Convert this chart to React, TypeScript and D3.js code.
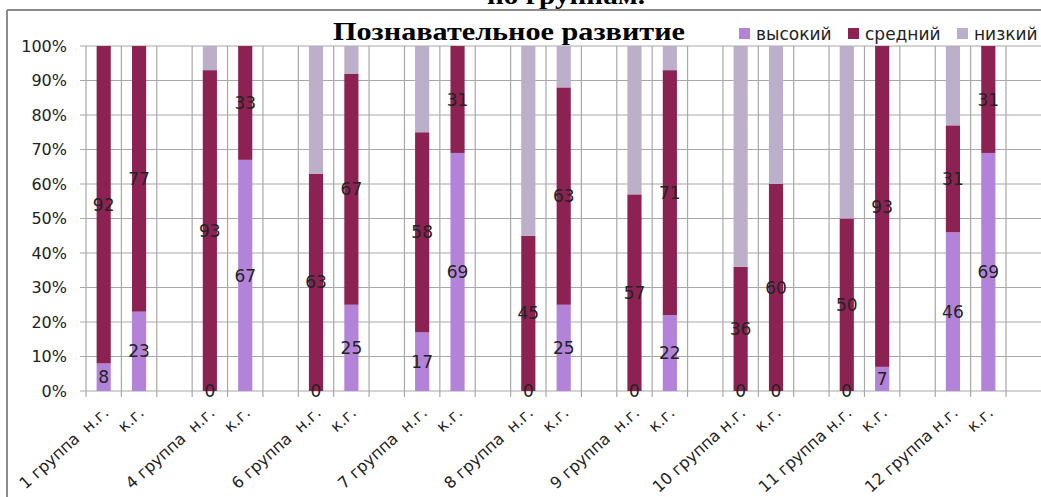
import React from "react";
import * as d3 from "d3";

// categories (blank slots separate the groups)
const categories = [
  "1 группа  н.г.", "к.г.", "",
  "4 группа  н.г.", "к.г.", "",
  "6 группа  н.г.", "к.г.", "",
  "7 группа  н.г.", "к.г.", "",
  "8 группа  н.г.", "к.г.", "",
  "9 группа  н.г.", "к.г.", "",
  "10 группа н.г.", "к.г.", "",
  "11 группа н.г.", "к.г.", "",
  "12 группа н.г.", "к.г.", "",
];

const high = [8, 23, null, 0, 67, null, 0, 25, null, 17, 69, null, 0, 25, null, 0, 22, null, 0, 0, null, 0, 7, null, 46, 69, null];
const mid = [92, 77, null, 93, 33, null, 63, 67, null, 58, 31, null, 45, 63, null, 57, 71, null, 36, 60, null, 50, 93, null, 31, 31, null];
const low = [0, 0, null, 7, 0, null, 37, 8, null, 25, 0, null, 55, 12, null, 43, 7, null, 64, 40, null, 50, 0, null, 23, 0, null];

const seriesNames = ["высокий", "средний", "низкий"];
const colors = ["#b383da", "#8b2252", "#bbafc9"];
const yTicks = [0, 10, 20, 30, 40, 50, 60, 70, 80, 90, 100];

const W = 1041;
const H = 497;
const left = 86;
const right = 1041.4;
const top = 46;
const bottom = 391;
const gridColor = "#a8a8a8";
const font = "'DejaVu Sans', Verdana, sans-serif";

export default function App() {
  const x = d3.scaleBand<number>().domain(categories.map((_, i) => i)).range([left, right]).padding(0);
  const y = d3.scaleLinear().domain([0, 100]).range([bottom, top]);
  const bw = x.bandwidth() * 0.4;

  const rows = categories.map((c, i) => ({ i, c, high: high[i], mid: mid[i], low: low[i] }));
  const stack = d3.stack<any>().keys(["high", "mid", "low"]).value((d, k) => d[k] ?? 0);
  const layers = stack(rows);

  return (
    <svg width={W} height={H} style={{ position: "absolute", left: 0, top: 0, background: "#fff" }}>
      {/* frame */}
      <line x1={7} x2={W} y1={10} y2={10} stroke="#8c8c8c" strokeWidth={2} />
      <line x1={7} x2={7} y1={10} y2={H} stroke="#8c8c8c" strokeWidth={2} />
      <text x={487} y={4} fontFamily="'Liberation Serif', 'Times New Roman', serif" fontWeight="bold" fontSize={26}
        textLength={158} lengthAdjust="spacingAndGlyphs">по группам.</text>

      {/* grid */}
      {yTicks.map((t) => (
        <line key={"h" + t} x1={left - 6} x2={W} y1={y(t)} y2={y(t)} stroke={gridColor} strokeWidth={1.2} />
      ))}
      {categories.map((_, i) => (
        <line key={"v" + i} x1={x(i)!} x2={x(i)!} y1={top} y2={bottom + 6} stroke={gridColor} strokeWidth={1.2} />
      ))}
      {yTicks.map((t) => (
        <text key={"yl" + t} x={67} y={y(t)} dy="0.36em" textAnchor="end" fontFamily={font} fontSize={16} fill="#222">
          {t}%
        </text>
      ))}

      {/* bars */}
      {layers.map((layer, s) =>
        layer.map((d, i) => {
          if (categories[i] === "") return null;
          const x0 = x(i)! + (x.bandwidth() - bw) / 2;
          return (
            <rect key={s + "-" + i} x={x0} width={bw} y={y(d[1])} height={y(d[0]) - y(d[1])} fill={colors[s]} />
          );
        })
      )}

      {/* data labels (высокий, средний) */}
      {layers.slice(0, 2).map((layer, s) =>
        layer.map((d, i) => {
          if (categories[i] === "") return null;
          const v = s === 0 ? high[i] : mid[i];
          return (
            <text key={"l" + s + "-" + i} x={x(i)! + x.bandwidth() / 2} y={y((d[0] + d[1]) / 2)} dy="0.36em"
              textAnchor="middle" fontFamily={font} fontSize={17} fill="#222">
              {v}
            </text>
          );
        })
      )}

      {/* x labels */}
      {categories.map((c, i) =>
        c === "" ? null : (
          <text key={"xl" + i} transform={`translate(${x(i)! + x.bandwidth() / 2 + 6},${414}) rotate(-42)`}
            textAnchor="end" fontFamily={font} fontSize={16} fill="#222" style={{ whiteSpace: "pre" }}>
            {c}
          </text>
        )
      )}

      {/* title */}
      <text x={333} y={40} fontFamily="'Liberation Serif', 'Times New Roman', serif" fontWeight="bold" fontSize={26}
        textLength={352} lengthAdjust="spacingAndGlyphs">Познавательное развитие</text>

      {/* legend */}
      {seriesNames.map((n, s) => {
        const lx = [739, 848, 957][s];
        return (
          <g key={n}>
            <rect x={lx} y={28} width={11} height={11} fill={colors[s]} />
            <text x={lx + 17} y={34} dy="0.36em" fontFamily={font} fontSize={17} fill="#222">{n}</text>
          </g>
        );
      })}
    </svg>
  );
}
